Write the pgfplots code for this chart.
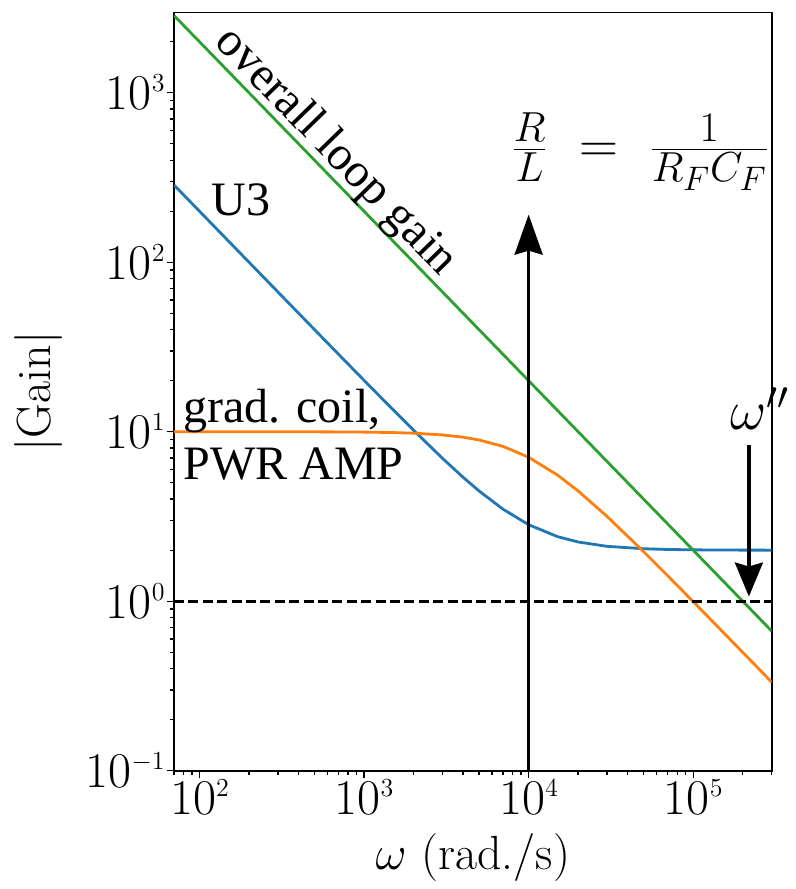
\RequirePackage{fix-cm}
\documentclass[border=0pt]{standalone}
\usepackage{fontspec}
\usepackage{pgfplots}
\pgfplotsset{compat=1.18}
\usetikzlibrary{arrows.meta}
\newfontfamily\tms{Liberation Serif}
\DeclareMathSizes{27}{27}{21}{17}
\definecolor{c1}{HTML}{1F77B4}
\definecolor{c2}{HTML}{FF7F0E}
\definecolor{c3}{HTML}{2CA02C}
\newcommand\tl[1]{10\raisebox{9pt}{\fontsize{13}{13}\selectfont$#1$}}
\begin{document}
\begin{tikzpicture}
\begin{axis}[
  scale only axis, width=298.85pt, height=379pt,
  xmode=log, ymode=log,
  xmin=70, xmax=3e5, ymin=0.1, ymax=2968,
  axis line style={line width=0.8pt},
  tick style={black, line width=0.7pt},
  tick align=outside, tick pos=left,
  major tick length=3.5pt, minor tick length=2pt,
  xtick={100,1000,10000,100000},
  xticklabels={\tl{2},\tl{3},\tl{4},\tl{5}},
  ytick={0.1,1,10,100,1000},
  yticklabels={\tl{-1},\tl{0},\tl{1},\tl{2},\tl{3}},
  minor xtick={70,80,90,200,300,400,500,600,700,800,900,2000,3000,4000,5000,6000,7000,8000,9000,20000,30000,40000,50000,60000,70000,80000,90000,200000,300000},
  minor ytick={0.2,0.3,0.4,0.5,0.6,0.7,0.8,0.9,2,3,4,5,6,7,8,9,20,30,40,50,60,70,80,90,200,300,400,500,600,700,800,900,2000},
  ticklabel style={font=\fontsize{25}{28}\selectfont, inner sep=1pt},
  xlabel={$\omega$ (rad./s)}, ylabel={$|\mathrm{Gain}|$},
  every axis x label/.style={at={(axis description cs:0.5,-0.115)}, anchor=center, font=\fontsize{24}{28}\selectfont},
  every axis y label/.style={at={(axis description cs:-0.2275,0.5)}, anchor=center, rotate=90, font=\fontsize{24}{28}\selectfont},
]
\addplot[c1, line width=1.4pt] coordinates {
(70,285.7) (100,200.01) (150,133.35) (200,100.02) (300,66.70) (500,40.05) (700,28.64)
(1000,20.10) (1500,13.48) (2000,10.20) (3000,6.960) (4000,5.385) (5000,4.472) (7000,3.488)
(10000,2.828) (15000,2.404) (20000,2.236) (30000,2.108) (50000,2.040) (70000,2.020)
(100000,2.010) (150000,2.004) (200000,2.0025) (300000,2.0011)};
\addplot[c2, line width=1.4pt] coordinates {
(70,10.00) (100,9.9995) (150,9.9989) (200,9.998) (300,9.9955) (500,9.9875) (700,9.9756)
(1000,9.9504) (1500,9.8894) (2000,9.8058) (3000,9.5783) (4000,9.2848) (5000,8.9443) (7000,8.1923)
(10000,7.0711) (15000,5.5470) (20000,4.4721) (30000,3.1623) (50000,1.9612) (70000,1.4142)
(100000,0.99504) (150000,0.66519) (200000,0.49938) (300000,0.33315)};
\addplot[c3, line width=1.4pt] coordinates {
(70,2857.1) (1000,200) (10000,20) (100000,2) (300000,0.6667)};
\addplot[black, line width=1.3pt, dash pattern=on 5pt off 2.2pt] coordinates {(70,1) (300000,1)};
\addplot[black, line width=1.6pt, -{Stealth[length=20pt,width=14pt,inset=2pt]}] coordinates {(10000,0.1) (10000,191)};
\addplot[black, line width=1.6pt, -{Stealth[length=17pt,width=14pt,inset=2pt]}] coordinates {(218000,8.39) (218000,1.066)};
\node[rotate=-45.8, font=\tms\fontsize{24}{28}\selectfont] at (axis cs:666,445) {overall loop gain};
\node[font=\tms\fontsize{24}{28}\selectfont] at (axis cs:178.8,234.9) {U3};
\node[anchor=base west, inner sep=0pt, font=\tms\fontsize{24}{28}\selectfont] at (axis cs:79.4,11.31) {grad. coil,};
\node[anchor=base west, inner sep=0pt, font=\tms\fontsize{24}{28}\selectfont] at (axis cs:79.4,5.21) {PWR AMP};
\node[anchor=west, inner sep=0pt, font=\fontsize{27}{32}\selectfont] at (axis cs:7816,451) {$\frac{R}{L}\ =\ \frac{1}{R_F C_F}$};
\end{axis}
\node[anchor=base west, inner sep=0pt, font=\fontsize{28}{32}\selectfont] at ([xshift=-20.85pt,yshift=170.35pt]current axis.south east) {$\omega''$};
\pgfresetboundingbox
\path[use as bounding box] ([xshift=-87pt,yshift=-59.15pt]current axis.south west) rectangle ([xshift=11.65pt,yshift=6.35pt]current axis.north east);
\end{tikzpicture}
\end{document}
